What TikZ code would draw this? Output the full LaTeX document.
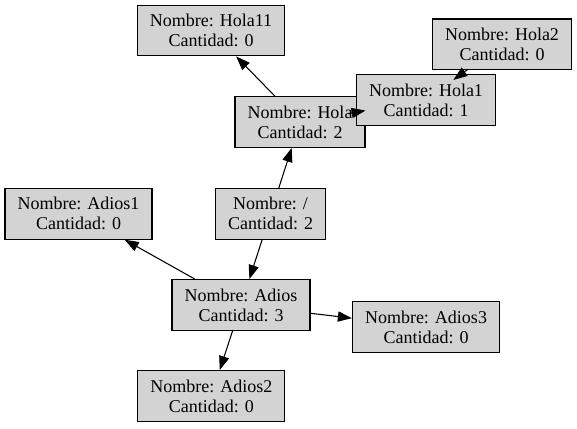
\documentclass[tikz,border=0pt]{standalone}
\usepackage{fontspec}
\setmainfont{Liberation Serif}
\usetikzlibrary{arrows.meta,calc}
\definecolor{nodegray}{RGB}{211,211,211}

\begin{document}
\begin{tikzpicture}[x=0.75pt, y=-0.75pt,
        caja/.style={draw=black, fill=nodegray, line width=0.9pt, align=center,
            inner xsep=9.4pt, minimum height=38pt, font=\fontsize{13.5}{15}\selectfont},
        arista/.style={-{Triangle[length=10.5pt, width=7.6pt]}, line width=0.8pt}]
    \useasboundingbox (0,0) rectangle (577,428);

    % Nodos de arriba
    \node[caja] (hola11) at (211,30.5) {Nombre: Hola11\\Cantidad: 0};
    \node[caja] (hola2) at (502,44.3) {Nombre: Hola2\\Cantidad: 0};
    \node[caja] (hola) at (300,122) {Nombre: Hola\\Cantidad: 2};
    \node[caja] (hola1) at (426,100) {Nombre: Hola1\\Cantidad: 1};

    % Raiz y nodos de abajo
    \node[caja] (adios1) at (78.5,213.8) {Nombre: Adios1\\Cantidad: 0};
    \node[caja] (raiz) at (270.5,213.8) {Nombre: /\\Cantidad: 2};
    \node[caja] (adios) at (241,305) {Nombre: Adios\\Cantidad: 3};
    \node[caja] (adios3) at (426,327) {Nombre: Adios3\\Cantidad: 0};
    \node[caja] (adios2) at (211.3,396) {Nombre: Adios2\\Cantidad: 0};

    % Aristas
    \draw[arista] (raiz) -- (hola);
    \draw[arista] (raiz) -- (adios);
    \draw[arista] (hola) -- (hola11);
    \draw[arista] ($(hola)!0.38!(hola1)$) -- ($(hola)!0.52!(hola1)$);
    \draw[arista] ($(hola1)!0.55!(hola2)$) -- ($(hola1)!0.36!(hola2)$);
    \draw[arista] (adios) -- (adios1);
    \draw[arista] (adios) -- (adios3);
    \draw[arista] (adios) -- (adios2);
\end{tikzpicture}
\end{document}
